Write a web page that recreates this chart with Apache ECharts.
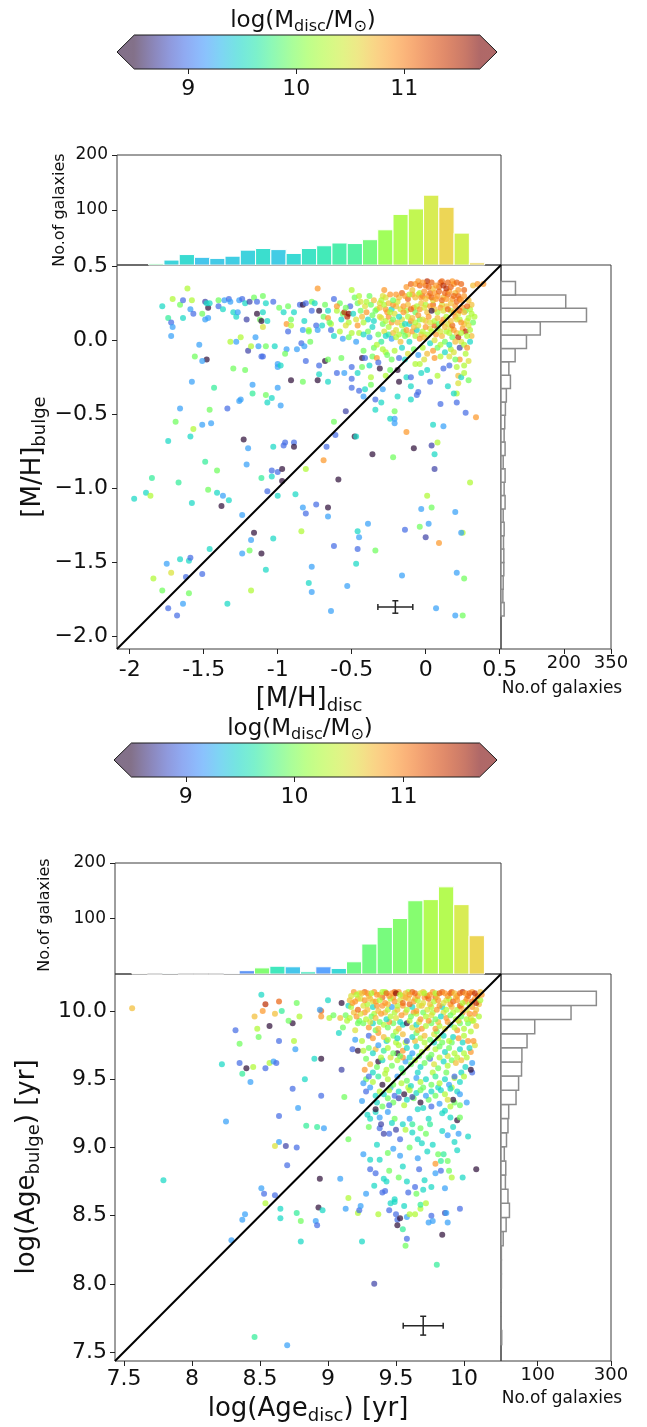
<!DOCTYPE html>
<html>
<head>
<meta charset="utf-8">
<script src="https://cdn.jsdelivr.net/npm/echarts@6/dist/echarts.min.js"></script>
<style>
  html, body { margin: 0; padding: 0; background: #ffffff; }
  #chart { width: 647px; height: 1427px; }
</style>
</head>
<body>
<div id="chart"></div>
<script>
// ---------------------------------------------------------------------------
// Bulge vs disc: metallicity (top block) and age (bottom block), coloured by
// disc stellar mass log(M_disc/M_sun). Each point: [disc value, bulge value, mass].
// ---------------------------------------------------------------------------

// [M/H]_disc, [M/H]_bulge, log(M_disc/M_sun)
const metalPoints = [
  [-1.61,0.35,10.25],[-1.78,0.23,9.5],[-1.71,0.28,10.25],[-1.66,0.24,9.95],[-1.64,0.27,8.95],[-1.58,0.27,10.25],[-1.59,0.21,9.2],[-1.57,0.18,8.95],
  [-1.74,0.15,9.7],[-1.72,0.12,8.95],[-1.71,0.09,9.2],[-1.72,0.03,9.2],[-1.64,0.15,9.5],[-1.51,0.18,9.95],[-1.49,0.26,8.75],[-1.47,0.22,8.5],
  [-1.48,0.25,9.5],[-1.46,0.25,9.5],[-1.49,0.14,9.2],[-1.47,0.15,9.2],[-1.40,0.27,9.95],[-1.40,0.23,8.95],[-1.36,0.27,9.2],[-1.37,0.21,9.5],
  [-1.33,0.28,8.95],[-1.32,0.26,9.2],[-1.30,0.19,9.5],[-1.28,0.16,9.5],[-1.27,0.19,9.2],[-1.26,0.27,9.2],[-1.24,0.28,8.95],[-1.22,0.25,9.5],
  [-1.21,0.14,8.75],[-1.19,0.26,8.75],[-1.16,0.29,9.95],[-1.14,0.26,8.95],[-1.14,0.18,8.5],[-1.12,0.14,9.95],[-1.11,0.13,8.5],[-1.10,0.30,9.95],
  [-1.10,0.19,9.5],[-1.08,0.25,9.5],[-1.03,0.26,8.95],[-1.07,0.13,9.5],[-1.10,0.09,10.5],[-0.99,0.22,9.95],[-0.96,0.19,9.5],[-0.93,0.23,9.95],
  [-0.91,0.14,9.95],[-0.89,0.19,9.5],[-0.85,0.24,8.95],[-0.83,0.24,8.5],[-0.81,0.25,8.95],[-0.77,0.26,9.95],[-0.82,0.13,9.5],[-0.79,0.07,10.25],
  [-0.77,0.20,8.95],[-0.75,0.25,9.5],[-0.73,0.35,10.9],[-0.72,0.20,8.5],[-0.69,0.16,9.95],[-0.66,0.20,9.5],[-0.66,0.15,10.9],[-0.64,0.11,10.25],
  [-0.62,0.28,8.95],[-0.58,0.25,9.95],[-0.56,0.18,9.95],[-0.55,0.19,11.45],[-0.53,0.16,11.45],[-0.52,0.18,11.65],[-0.51,0.23,8.95],[-0.50,0.34,10.25],
  [-0.48,0.29,9.95],[-0.46,0.25,9.95],[-0.45,0.30,10.25],[-0.44,0.26,10.5],[-0.41,0.23,10.5],[-0.40,0.19,10.9],[-0.38,0.30,9.95],[-0.37,0.24,9.95],
  [-0.36,0.17,9.95],[-0.35,0.13,9.5],[-0.33,0.21,10.25],[-0.31,0.25,10.5],[-0.29,0.30,10.5],[-0.28,0.34,10.9],[-0.27,0.21,10.9],
  [-0.94,0.11,10.9],[-0.93,0.06,8.95],[-0.91,0.10,10.25],[-0.83,0.07,9.2],[-0.79,0.06,9.95],[-0.74,0.10,8.95],[-0.73,0.07,9.2],[-0.65,0.12,9.95],
  [-0.64,0.07,8.95],[-0.58,0.06,10.25],[-0.56,0.01,9.2],[-1.32,-0.01,10.25],[-1.28,-0.01,9.2],[-1.25,0.02,10.25],[-1.15,0.02,9.2],[-1.53,-0.03,9.2],
  [-1.56,-0.11,9.95],[-1.20,-0.07,8.75],[-1.18,-0.04,10.25],[-1.13,-0.04,9.2],[-1.11,-0.11,8.95],[-1.10,-0.11,8.95],[-1.08,-0.04,9.95],[-1.02,-0.04,9.5],
  [-0.94,-0.06,9.2],[-0.95,-0.09,9.95],[-0.87,-0.06,9.2],[-0.84,-0.02,8.95],[-0.82,-0.04,9.2],[-0.78,-0.01,9.95],[-1.48,-0.13,8.5],[-1.51,-0.14,9.2],
  [-1.30,-0.19,9.95],[-1.22,-0.20,9.95],[-1.00,-0.16,9.2],[-1.00,-0.18,9.2],[-0.98,-0.17,9.5],[-0.81,-0.14,8.95],[-0.72,-0.17,8.95],[-0.68,-0.14,8.5],
  [-0.66,-0.13,9.95],[-0.72,-0.23,9.5],[-0.73,-0.27,8.5],[-0.91,-0.27,8.5],[-0.83,-0.28,9.95],[-0.66,-0.28,9.5],[-0.60,-0.22,8.95],[-0.57,-0.12,9.95],
  [-0.55,-0.22,9.2],[-0.50,-0.18,8.95],[-0.46,-0.22,9.5],[-0.50,-0.26,8.95],[-0.43,-0.12,8.5],[-0.43,-0.18,9.95],[-0.42,-0.07,9.95],[-0.41,-0.12,8.95],
  [-0.38,-0.17,9.5],[-0.37,-0.25,10.25],[-0.36,-0.11,9.95],[-0.33,-0.12,10.9],[-0.32,-0.15,8.95],[-0.31,-0.19,8.5],[-0.29,-0.06,10.25],[-0.27,-0.08,10.25],
  [-0.23,-0.13,9.95],[-0.18,-0.12,8.95],[-0.19,-0.20,8.5],[-0.18,-0.28,8.5],[-0.14,-0.13,9.5],[-0.13,-0.25,9.5],[-0.10,-0.25,8.95],[-0.07,-0.16,10.25],
  [-0.04,-0.16,10.25],[-0.01,-0.13,10.5],[0.01,-0.20,9.5],[0.03,-0.28,8.95],[0.05,-0.07,10.9],[0.06,-0.12,10.9],[0.12,-0.19,8.95],[0.16,-0.17,8.95],
  [0.16,-0.11,10.5],[0.17,-0.06,10.25],[0.21,-0.18,10.25],[0.23,-0.13,10.9],[0.26,-0.17,10.25],[0.22,-0.24,10.7],[0.22,-0.29,10.5],[0.24,-0.25,9.5],
  [0.23,-0.05,8.75],[0.15,-0.31,9.5],[0.21,-0.36,10.25],[0.19,-0.36,9.5],[-1.58,-0.28,9.2],[-1.43,-0.32,9.7],[-1.17,-0.30,9.2],[-1.17,-0.36,9.7],
  [-1.08,-0.37,9.95],[-1.04,-0.39,9.5],[-1.07,-0.42,9.5],[-1.25,-0.40,9.2],[-1.26,-0.41,9.2],[-1.00,-0.32,9.2],[-0.98,-0.44,9.2],[-1.34,-0.46,8.95],
  [-1.46,-0.47,9.95],[-1.66,-0.46,9.2],[-1.69,-0.55,9.95],[-1.57,-0.60,10.25],[-1.51,-0.57,9.2],[-1.45,-0.56,9.2],[-0.50,-0.32,8.95],[-0.45,-0.34,8.95],
  [-0.41,-0.33,9.5],[-0.42,-0.38,9.2],[-0.37,-0.30,9.95],[-0.29,-0.33,9.2],[-0.34,-0.40,8.95],[-0.30,-0.42,9.5],[-0.34,-0.47,9.5],[-0.21,-0.48,9.95],
  [-0.19,-0.38,9.5],[-0.24,-0.53,9.5],[-0.21,-0.53,9.2],[-0.21,-0.56,9.2],[-0.10,-0.31,9.5],[-0.06,-0.37,8.95],[-0.05,-0.35,8.95],[-0.10,-0.40,9.5],
  [0.10,-0.43,8.95],[0.21,-0.42,8.95],[0.27,-0.49,8.95],[0.34,-0.52,10.9],[0.05,-0.57,9.5],[0.12,-0.58,9.2],[-0.13,-0.62,10.9],[-0.48,-0.65,8.5],
  [-0.47,-0.65,9.5],[-0.54,-0.48,8.75],[-0.62,-0.55,9.95],[-0.61,-0.64,8.95],[-0.67,-0.72,8.95],[-0.36,-0.77,8.5],[-0.22,-0.79,9.95],[-0.08,-0.73,8.5],
  [0.04,-0.71,8.75],[0.08,-0.69,10.25],[0.06,-0.77,9.5],[-1.74,-0.68,9.5],[-1.59,-0.65,9.5],[-1.23,-0.67,8.5],[-1.20,-0.73,9.2],[-1.03,-0.72,9.5],
  [-0.96,-0.71,8.95],[-0.95,-0.69,8.95],[-0.89,-0.69,8.95],[-0.89,-0.72,8.5],
  [-1.49,-0.82,9.7],[-1.41,-0.88,9.95],[-1.85,-0.93,9.7],[-1.67,-0.96,9.7],[-1.97,-1.07,9.5],[-1.89,-1.03,9.5],[-1.86,-1.05,10.25],[-1.58,-1.10,9.5],
  [-1.47,-1.01,9.95],[-1.41,-1.03,9.5],[-1.37,-1.05,9.2],[-1.33,-1.08,9.5],[-1.38,-1.12,8.5],[-1.21,-0.84,9.2],[-1.11,-0.93,9.7],[-1.04,-0.92,9.5],
  [-1.04,-0.88,8.95],[-1.00,-0.89,8.95],[-0.97,-0.87,8.5],[-0.97,-0.95,8.5],[-1.07,-1.02,8.95],[-1.00,-1.05,9.5],[-0.81,-0.87,10.25],[-0.69,-0.81,10.9],
  [-0.59,-0.94,8.5],[0.06,-0.87,8.75],[0.30,-0.96,10.25],[-0.88,-1.04,9.5],[-0.83,-1.13,9.2],[-0.81,-1.17,8.95],[-0.74,-1.11,8.95],[-0.66,-1.13,8.5],
  [-0.66,-1.19,9.2],[0.01,-1.05,10.25],[0.04,-1.13,9.95],[-0.03,-1.14,9.2],[0.20,-1.16,9.2],[-1.24,-1.18,9.2],[-1.16,-1.30,8.5],[-1.18,-1.35,9.2],
  [-1.03,-1.34,9.5],[-0.84,-1.29,10.25],[-0.46,-1.29,9.5],[-0.45,-1.33,9.2],[-0.39,-1.24,9.2],[-0.14,-1.28,8.95],[-0.04,-1.26,9.95],[0.02,-1.24,9.2],
  [0.00,-1.33,8.75],[0.09,-1.37,10.9],[0.25,-1.30,10.25],[0.24,-1.30,9.2],[-1.46,-1.41,9.5],[-1.19,-1.42,9.95],[-1.11,-1.44,8.5],[-1.24,-1.44,9.2],
  [-0.62,-1.39,8.95],[-0.46,-1.41,8.95],[-0.34,-1.42,9.95],[-1.66,-1.48,9.5],[-1.75,-1.51,9.2],[-1.60,-1.49,9.5],[-1.59,-1.47,8.95],[-1.72,-1.57,10.5],
  [-1.84,-1.61,10.25],[-1.62,-1.60,8.95],[-1.51,-1.58,8.95],[-1.08,-1.55,9.5],[-0.77,-1.53,9.2],[-0.47,-1.51,9.5],[-0.16,-1.59,9.2],[0.21,-1.57,9.2],
  [0.26,-1.61,9.95],[-1.78,-1.69,9.95],[-1.60,-1.71,9.95],[-1.18,-1.69,10.25],[-0.79,-1.64,9.5],[-0.77,-1.70,9.2],[-0.53,-1.66,9.2],[-1.64,-1.78,9.2],
  [-1.34,-1.78,9.5],[-1.74,-1.81,8.95],[-1.68,-1.86,8.95],[-0.64,-1.83,9.2],[0.07,-1.81,9.2],[0.20,-1.86,9.2],[0.25,-1.86,9.95],
  [-0.60,0.20,10.25],[-0.57,0.14,9.5],[-0.54,0.22,9.95],[-0.52,0.12,10.25],[-0.49,0.18,9.5],[-0.47,0.14,10.5],[-0.44,0.20,9.95],[-0.43,0.16,10.7],
  [-0.40,0.26,10.25],[-0.39,0.14,9.5],[-0.35,0.27,10.7],[-0.34,0.20,9.95],[-0.31,0.16,10.5],[-0.62,0.03,9.5],[-0.52,0.02,9.95],[-0.45,0.05,10.25],
  [-0.38,0.02,9.2],[-0.35,-0.05,9.95],[-0.60,0.23,10.9],[-0.68,0.24,9.95],[-0.70,0.10,9.5],
  [-0.26,-0.10,9.95],[-0.21,-0.07,10.25],[-0.16,-0.05,9.5],[-0.12,-0.09,10.5],[-0.08,-0.06,9.95],[-0.05,-0.10,9.2],[-0.02,-0.05,10.25],[0.01,-0.09,10.7],
  [0.08,-0.05,9.95],[0.10,-0.11,10.25],[0.13,-0.08,9.5],[0.19,-0.08,10.5],[0.20,-0.13,9.95],[0.27,-0.09,10.25],[0.29,-0.14,10.5],[0.26,-0.22,10.25],
  [0.29,-0.27,9.95],[0.08,-0.24,10.25],[-0.03,-0.22,9.5],[-0.24,-0.20,9.95],[-0.27,-0.24,10.25],
  [-0.28,0.06,10.5],[-0.25,0.04,9.7],[-0.22,0.05,10.7],[-0.18,0.04,10.25],[-0.15,0.06,9.95],[-0.12,0.04,10.5],[-0.09,0.06,10.9],[-0.06,0.07,9.5],
  [-0.03,0.04,10.7],[0.01,0.04,10.25],[0.03,0.08,10.5],[0.07,0.04,10.9],[0.08,0.08,9.95],[0.11,0.03,10.7],[0.14,0.06,10.25],[0.17,0.08,10.5],
  [0.18,0.02,9.95],[0.21,0.05,10.7],[0.25,0.08,10.9],[0.27,0.06,11.45],[0.30,0.07,10.25],[0.31,0.03,10.7],[0.24,-0.01,10.5],[0.26,-0.03,10.25],
  [0.28,-0.05,10.9],[0.30,-0.01,9.5],
  [-0.29,0.11,9.95],[-0.25,0.09,10.25],[-0.23,0.12,10.9],[-0.20,0.07,10.5],[-0.16,0.10,10.25],[-0.13,0.07,10.9],[-0.11,0.11,9.5],[-0.08,0.09,10.7],
  [-0.05,0.10,10.5],[-0.02,0.06,10.25],[0.00,0.09,10.9],[0.04,0.06,10.25],[0.06,0.10,11.15],[0.10,0.06,10.5],[0.13,0.09,10.7],[0.16,0.05,10.25],
  [0.19,0.07,10.9],[0.22,0.02,11.45],[0.24,0.05,10.25],[0.28,0.03,10.25],[-0.27,0.03,9.5],[-0.23,0.01,9.2],[-0.20,0.02,10.25],[-0.17,-0.01,10.7],
  [-0.14,0.03,9.95],[-0.11,-0.01,9.5],[-0.07,0.03,10.25],[-0.04,0.01,10.9],[-0.01,0.02,10.7],[0.03,-0.02,9.5],[0.06,0.00,10.5],[0.10,-0.03,10.25],
  [0.13,-0.01,9.95],[0.16,-0.03,9.5],[0.20,-0.01,10.7],
  [-0.46,0.10,10.9],[-0.42,0.12,10.25],[-0.39,0.06,9.95],[-0.36,0.09,9.5],[-0.32,0.04,9.95],[-0.30,-0.01,9.7],[-0.42,0.04,9.5],[-0.47,-0.01,9.2],
  [-0.50,0.05,10.25],[-0.54,0.10,10.5],[-0.33,-0.03,10.25],
  [-0.30,0.15,10.5],[-0.27,0.13,10.25],[-0.25,0.16,10.9],[-0.22,0.14,9.95],[-0.19,0.12,10.7],[-0.16,0.14,10.5],[-0.14,0.11,9.5],[-0.10,0.13,10.9],
  [-0.07,0.12,10.25],[-0.04,0.14,9.95],[0.00,0.13,10.7],[0.03,0.12,10.5],[0.06,0.13,10.25],[0.09,0.11,9.95],[0.11,0.12,10.9],[0.15,0.11,10.5],
  [0.18,0.10,11.15],[0.20,0.16,10.9],[0.23,0.14,10.25],[0.26,0.11,10.7],[0.28,0.13,10.5],[0.32,0.12,9.95],[0.33,0.16,10.25],
  [-0.31,0.22,10.7],[-0.28,0.24,10.25],[-0.26,0.19,10.9],[-0.23,0.21,9.5],[-0.20,0.23,10.7],[-0.17,0.21,10.5],[-0.13,0.20,10.25],[-0.08,0.22,10.9],
  [-0.07,0.19,9.95],[-0.03,0.25,10.7],[0.00,0.24,10.25],[0.01,0.19,10.7],[0.05,0.24,11.15],[0.08,0.19,10.25],[0.11,0.24,10.5],[0.14,0.23,10.7],
  [0.17,0.20,10.25],[0.20,0.23,10.9],[0.22,0.18,10.5],[0.25,0.22,10.9],[0.27,0.20,9.95],[0.30,0.21,10.25],[0.31,0.24,10.7],
  [-0.25,0.25,10.7],[-0.22,0.24,10.9],[-0.19,0.26,10.5],[-0.15,0.23,10.9],[-0.12,0.24,10.7],[-0.10,0.21,11.15],[-0.06,0.23,10.25],[-0.04,0.21,10.9],
  [-0.01,0.22,10.5],[0.03,0.23,10.9],[0.06,0.21,10.7],[0.10,0.22,10.9],[0.12,0.20,10.5],[0.15,0.21,11.15],[0.19,0.19,10.9],[0.23,0.20,11.15],
  [0.26,0.19,10.7],[-0.24,0.19,10.25],[-0.21,0.18,10.5],[-0.18,0.16,9.5],[-0.15,0.19,10.9],[-0.12,0.16,10.25],[-0.09,0.15,10.7],[-0.05,0.17,10.9],
  [-0.02,0.14,10.5],[0.02,0.16,10.9],[0.04,0.20,8.5],[0.08,0.15,10.7],[0.12,0.14,10.9],[0.14,0.16,10.25],[0.17,0.13,10.7],[0.21,0.14,10.5],
  [0.24,0.12,10.9],[0.29,0.15,10.25],
  [-0.27,0.29,10.5],[-0.24,0.31,10.9],[-0.18,0.29,10.7],[-0.12,0.28,11.15],[-0.09,0.31,10.9],[-0.05,0.31,10.5],[-0.02,0.30,11.15],[0.02,0.30,10.9],
  [0.05,0.27,10.5],[0.08,0.30,10.9],[0.12,0.29,10.7],[0.15,0.31,11.15],[0.18,0.28,10.9],[0.20,0.32,10.7],[0.23,0.28,11.15],[0.26,0.30,10.9],
  [0.29,0.27,10.7],[-0.30,0.27,10.25],[-0.22,0.27,9.95],
  [-0.04,0.32,10.25],[-0.01,0.33,10.9],[0.03,0.32,11.15],[0.06,0.32,10.9],[0.09,0.33,11.15],[0.13,0.32,11.15],[0.16,0.33,10.9],[0.19,0.30,11.15],
  [0.22,0.30,11.15],[-0.20,0.31,10.9],[-0.16,0.32,11.15],[-0.14,0.30,10.9],[-0.11,0.31,10.25],[-0.07,0.29,10.7],[-0.03,0.29,10.9],[0.00,0.28,10.7],
  [0.04,0.29,11.15],[0.07,0.28,10.9],[0.11,0.27,11.15],[0.14,0.28,10.9],[0.17,0.25,10.7],[0.21,0.26,11.15],[0.24,0.27,10.9],[0.28,0.23,11.15],
  [-0.13,0.36,10.9],[-0.10,0.38,11.15],[-0.05,0.40,10.9],[0.00,0.37,11.15],[0.05,0.35,10.7],[0.09,0.36,11.15],[0.14,0.35,11.45],[0.19,0.38,10.9],
  [0.24,0.38,11.15],[0.26,0.34,11.15],[-0.09,0.34,10.7],[0.01,0.40,11.45],[0.11,0.40,11.15],[0.18,0.40,10.9],
  [-0.07,0.38,10.9],[-0.04,0.37,11.15],[-0.02,0.39,10.9],[0.02,0.36,11.15],[0.04,0.39,11.15],[0.07,0.37,10.9],[0.10,0.39,11.15],[0.12,0.37,11.45],
  [0.15,0.39,11.15],[0.17,0.36,11.15],[0.21,0.39,11.15],[0.22,0.34,10.9],
  [0.31,0.18,10.25],[0.32,0.37,10.7],[0.35,0.38,10.9],[0.39,0.38,10.9],[0.29,0.10,10.5]
];

// log(Age_disc), log(Age_bulge), log(M_disc/M_sun)
const agePoints = [
  [7.56,10.02,10.7],[7.79,8.76,9.5],[8.51,10.12,9.5],[8.54,10.05,11.45],[8.64,10.07,11.15],[8.52,10.00,10.9],[8.61,9.98,10.7],[8.66,10.00,9.7],
  [8.77,10.06,9.95],[8.46,9.96,10.7],[8.57,9.89,8.5],[8.74,9.91,8.5],[8.71,9.93,9.95],[8.79,9.96,10.25],[8.48,9.87,10.25],[8.32,9.86,8.95],
  [8.49,9.81,9.95],[8.35,9.76,9.95],[8.64,9.78,8.95],[8.75,9.78,10.25],[8.76,9.72,9.2],[8.95,10.00,11.15],[8.95,9.96,10.9],[9.01,9.95,10.25],
  [9.00,10.08,9.5],[8.94,10.01,9.2],[9.04,9.97,9.95],[9.09,9.95,10.7],[9.10,10.06,8.5],[9.11,9.88,9.95],[9.08,9.84,9.5],[9.15,10.04,9.5],
  [9.20,9.79,9.2],[9.18,9.72,8.95],[9.22,9.71,8.5],[8.90,9.65,9.5],[8.95,9.65,8.5],[8.22,9.61,9.5],[8.35,9.62,8.95],[8.40,9.58,8.5],
  [8.45,9.59,10.25],[8.37,9.54,9.7],[8.43,9.48,9.2],[8.54,9.58,8.95],[8.57,9.62,10.25],[8.60,9.63,9.2],[8.62,9.62,8.95],[8.83,9.50,9.5],
  [8.74,9.43,8.95],[8.95,9.38,8.95],[9.10,9.57,8.75],[9.12,9.37,9.95],[8.78,9.29,9.2],[8.64,9.23,8.95],[8.25,9.19,9.2],[8.84,9.16,9.7],
  [8.92,9.15,9.7],[8.97,9.14,9.2],[9.15,9.06,9.95],[8.64,9.04,9.2],[8.61,9.01,10.5],[8.69,9.01,8.75],[8.77,9.00,8.95],[8.70,8.87,8.95],
  [8.94,8.77,8.5],[9.09,8.77,9.2],[8.51,8.70,9.2],[8.53,8.66,8.95],[8.61,8.65,8.95],
  [9.26,8.95,9.2],[9.31,8.91,9.5],[9.38,8.91,9.5],[9.44,8.96,9.95],[9.53,8.94,9.2],[9.31,8.84,8.95],[9.35,8.81,8.95],[9.45,8.83,9.95],
  [9.41,8.77,9.5],[9.43,8.75,9.5],[9.58,8.75,9.5],[9.64,8.71,8.95],[9.67,8.84,8.95],[9.71,8.76,9.5],[9.79,8.88,10.9],[9.83,8.90,9.7],
  [9.81,8.95,9.95],[9.85,8.95,9.7],[9.83,8.83,8.95],[9.89,8.83,9.95],[9.79,8.81,9.2],[9.91,8.78,10.25],[9.99,8.78,9.5],[10.09,8.84,8.5],
  [9.76,8.71,9.5],[9.40,8.67,8.95],[9.42,8.68,8.95],[9.59,8.67,8.95],[9.65,8.66,9.95],[9.28,8.66,9.2],[9.15,8.63,10.25],[9.49,8.62,9.5],
  [10.03,9.08,9.5],[9.93,9.04,9.5],[9.88,9.09,9.2],[9.77,9.02,9.5],[9.69,9.03,9.5],[9.66,9.06,9.5],[9.62,9.11,9.5],[9.53,9.06,8.95],
  [9.50,9.13,8.75],[9.45,9.10,8.95],[9.41,9.10,8.75],[9.38,9.14,8.95],[9.39,9.17,8.75],[9.38,9.22,9.2],[9.31,9.21,9.5],[9.29,9.24,9.5],
  [9.35,9.26,9.5],[9.44,9.26,9.2],[9.49,9.21,9.95],[9.55,9.17,9.5],[9.57,9.13,10.25],[9.62,9.17,9.7],[9.68,9.14,9.95],[9.74,9.21,9.5],
  [9.75,9.17,9.7],[9.84,9.25,9.5],[9.90,9.22,9.5],[9.92,9.15,9.5],[9.95,9.20,8.5],[9.97,9.22,9.95],[10.02,9.33,9.2],[9.97,9.31,9.95],
  [9.90,9.30,10.25],[9.82,9.32,9.2],[9.76,9.30,8.95],[9.70,9.29,9.5],[9.68,9.33,8.5],[9.63,9.36,9.95],[9.58,9.35,9.5],[9.52,9.36,8.75],
  [9.48,9.33,9.95],[9.45,9.31,8.95],[9.40,9.30,9.95],[9.35,9.28,8.5],[9.25,9.34,9.2],
  [8.54,8.59,10.25],[8.65,8.55,9.5],[8.39,8.51,9.2],[8.37,8.47,9.2],[8.29,8.32,9.2],[8.65,8.48,9.5],[8.77,8.52,9.7],[8.80,8.46,9.95],
  [8.80,8.31,9.5],[8.91,8.46,9.2],[8.92,8.43,8.95],[8.93,8.56,8.5],[8.96,8.54,9.5],[9.13,8.55,9.2],[9.22,8.52,10.25],[9.23,8.54,8.95],
  [9.24,8.57,9.2],[9.25,8.31,9.5],[9.37,8.51,10.25],[9.45,8.54,8.95],[9.46,8.59,9.5],[9.49,8.60,9.5],[9.50,8.51,8.95],[9.51,8.47,8.95],
  [9.51,8.43,8.5],[9.53,8.48,8.5],[9.55,8.40,9.7],[9.57,8.28,9.95],[9.56,8.57,9.5],[9.58,8.49,9.2],[9.58,8.33,8.95],[9.60,8.51,10.25],
  [9.64,8.51,10.25],[9.68,8.55,10.25],[9.68,8.58,9.7],[9.72,8.59,10.25],[9.76,8.50,8.95],[9.74,8.45,9.2],[9.77,8.46,9.2],[9.86,8.52,8.75],
  [9.87,8.52,9.2],[9.88,8.45,9.2],[9.84,8.36,8.5],[9.97,8.55,8.95],[9.80,8.14,9.7],[9.34,8.00,8.75],[8.46,7.61,9.7],[8.70,7.55,9.2],
  [9.36,9.02,9.5],[9.48,8.99,9.2],[9.60,9.00,9.95],[9.73,8.97,9.5],[9.55,8.86,9.5],[9.66,8.92,9.2],[9.88,8.90,9.95],[9.52,8.78,9.95],
  [9.70,8.69,9.5],[9.86,8.70,9.2],[9.34,8.72,9.5],[9.95,8.98,9.5],
  [9.28,9.50,9.95],[9.33,9.55,9.5],[9.42,9.54,10.25],[9.46,9.44,9.2],[9.55,9.55,9.95],[9.59,9.44,10.25],[9.66,9.55,9.5],[9.70,9.44,9.95],
  [9.77,9.55,10.25],[9.81,9.44,9.5],[9.87,9.55,9.95],[9.91,9.44,10.25],[9.98,9.55,9.5],[9.36,9.33,9.5],[9.44,9.36,9.95],[9.56,9.31,10.25],
  [9.66,9.28,9.5],[9.74,9.35,9.95],[9.86,9.27,9.5],[9.93,9.33,9.95],[9.30,9.15,9.95],[9.47,9.18,9.5],[9.60,9.21,9.2],[9.72,9.10,9.95],
  [9.84,9.12,9.5],[9.96,9.10,9.2],
  [9.26,9.47,9.2],[9.30,9.52,8.95],[9.33,9.48,10.25],[9.37,9.52,9.7],[9.40,9.46,8.5],[9.44,9.50,10.25],[9.48,9.46,9.95],[9.51,9.52,9.2],
  [9.54,9.47,10.25],[9.58,9.49,9.95],[9.61,9.45,9.5],[9.65,9.51,9.2],[9.68,9.48,10.25],[9.72,9.50,9.5],[9.76,9.46,9.95],[9.79,9.52,9.7],
  [9.82,9.47,10.25],[9.86,9.50,9.5],[9.89,9.46,9.2],[9.93,9.51,10.25],[9.97,9.48,9.5],[10.00,9.52,10.25],[10.06,9.55,8.95],[9.93,9.52,8.95],
  [9.28,9.41,8.95],[9.31,9.44,9.2],[9.35,9.38,9.5],[9.38,9.41,10.25],[9.41,9.39,9.5],[9.45,9.42,10.25],[9.49,9.38,8.95],[9.52,9.41,9.5],
  [9.56,9.39,8.5],[9.60,9.42,10.25],[9.62,9.37,8.75],[9.65,9.40,9.5],[9.68,9.42,9.95],[9.72,9.38,9.2],[9.76,9.41,9.5],[9.79,9.38,9.95],
  [9.83,9.42,9.5],[9.86,9.39,10.25],[9.90,9.43,9.5],[9.92,9.35,8.5],[9.95,9.41,9.5],[9.88,9.35,10.5],[9.97,9.39,9.2],
  [9.27,9.57,10.9],[9.31,9.61,10.7],[9.36,9.59,9.95],[9.37,9.63,8.5],[9.40,9.64,9.5],[9.43,9.57,10.25],[9.47,9.60,9.95],[9.51,9.64,10.25],
  [9.51,9.69,8.5],[9.54,9.58,9.7],[9.57,9.63,9.2],[9.61,9.61,9.95],[9.64,9.64,10.25],[9.68,9.59,9.5],[9.71,9.62,9.95],[9.75,9.65,8.95],
  [9.78,9.61,10.5],[9.81,9.58,9.95],[9.85,9.63,9.5],[9.88,9.60,10.25],[9.91,9.64,9.95],[9.94,9.62,10.7],[9.98,9.64,10.7],[10.01,9.59,9.5],
  [10.06,9.62,9.2],[10.05,9.57,8.5],[9.55,9.66,10.9],
  [9.25,9.78,10.25],[9.28,9.65,9.95],[9.35,9.72,10.7],[9.39,9.66,10.25],[9.43,9.78,9.5],[9.46,9.66,10.5],[9.50,9.77,10.25],[9.53,9.67,9.95],
  [9.57,9.77,10.25],[9.60,9.66,9.5],[9.64,9.78,10.7],[9.67,9.67,9.95],[9.71,9.77,10.25],[9.74,9.66,9.95],[9.78,9.77,9.5],[9.82,9.66,10.25],
  [9.84,9.77,9.95],[9.88,9.67,10.5],[9.91,9.77,9.95],[9.95,9.66,10.25],[9.99,9.77,9.5],[10.02,9.66,10.25],[10.05,9.70,10.9],[10.08,9.75,10.5],
  [9.26,9.71,10.25],[9.30,9.73,9.95],[9.33,9.69,9.5],[9.37,9.75,9.2],[9.41,9.71,9.7],[9.44,9.73,10.25],[9.48,9.69,9.95],[9.52,9.75,10.25],
  [9.55,9.71,10.9],[9.58,9.73,9.5],[9.62,9.69,9.2],[9.65,9.74,9.5],[9.69,9.70,10.25],[9.73,9.73,10.5],[9.76,9.68,9.95],[9.79,9.72,10.25],
  [9.82,9.74,9.95],[9.86,9.70,9.5],[9.89,9.73,9.95],[9.93,9.69,10.25],[9.97,9.72,9.5],[10.00,9.69,10.25],[10.04,9.73,9.5],
  [9.30,9.82,8.95],[9.33,9.80,10.9],[9.37,9.84,10.9],[9.41,9.81,10.7],[9.44,9.79,10.25],[9.48,9.82,9.95],[9.51,9.80,9.5],[9.55,9.83,10.7],
  [9.58,9.78,8.95],[9.62,9.81,9.5],[9.65,9.84,9.95],[9.68,9.80,10.25],[9.71,9.82,10.7],[9.75,9.79,9.95],[9.78,9.83,10.5],[9.81,9.80,10.25],
  [9.85,9.82,9.5],[9.89,9.78,10.25],[9.92,9.81,9.5],[9.96,9.80,10.9],[10.00,9.82,10.25],[10.03,9.78,10.9],[10.07,9.78,10.9],[10.06,9.93,10.5],
  [9.20,9.86,10.5],[9.35,9.86,9.95],[9.50,9.85,10.25],[9.66,9.86,10.7],[9.80,9.85,9.95],[9.95,9.86,10.9],[10.05,9.85,10.25],
  [9.22,9.91,9.95],[9.26,9.91,9.95],[9.30,9.88,10.9],[9.33,9.91,9.5],[9.37,9.87,10.7],[9.41,9.90,10.25],[9.44,9.88,9.95],[9.48,9.91,9.95],
  [9.52,9.87,10.7],[9.55,9.90,9.5],[9.58,9.91,8.5],[9.62,9.88,10.5],[9.65,9.90,9.5],[9.69,9.87,10.9],[9.72,9.89,10.25],[9.76,9.91,9.95],
  [9.79,9.87,10.9],[9.82,9.89,10.25],[9.86,9.87,10.5],[9.90,9.90,9.5],[9.93,9.88,10.25],[9.97,9.91,9.95],[10.00,9.87,10.25],[10.03,9.91,9.95],
  [10.09,9.89,10.7],[10.07,9.93,10.25],
  [9.14,9.93,10.25],[9.19,9.99,10.7],[9.23,9.93,9.95],[9.27,9.99,10.9],[9.31,9.92,10.5],[9.34,9.98,10.25],[9.38,9.92,9.95],[9.42,9.99,10.7],
  [9.45,9.92,10.9],[9.49,9.99,10.25],[9.53,9.92,9.5],[9.57,9.99,10.7],[9.60,9.93,10.25],[9.63,9.99,10.9],[9.67,9.92,10.5],[9.70,9.99,9.95],
  [9.74,9.93,10.9],[9.77,9.99,10.25],[9.81,9.92,10.7],[9.85,9.99,10.5],[9.88,9.92,10.9],[9.92,9.99,10.25],[9.96,9.93,10.7],[9.99,9.99,10.9],
  [10.05,9.95,10.5],[10.08,9.98,10.9],[10.11,9.96,10.25],
  [9.13,9.97,9.95],[9.16,9.95,10.25],[9.21,9.96,10.9],[9.24,9.98,10.5],[9.28,9.94,10.25],[9.32,9.96,9.95],[9.35,9.95,10.7],[9.39,9.98,10.9],
  [9.43,9.94,9.5],[9.46,9.96,10.25],[9.50,9.95,10.5],[9.54,9.97,10.9],[9.61,9.96,9.95],[9.65,9.98,10.25],[9.68,9.94,10.9],[9.72,9.96,10.25],
  [9.76,9.97,10.5],[9.79,9.94,9.95],[9.83,9.96,9.5],[9.87,9.95,10.9],[9.90,9.97,9.95],[9.94,9.94,10.25],[9.98,9.96,9.95],[10.02,9.94,10.25],
  [10.04,9.98,10.9],
  [9.17,10.03,10.25],[9.22,10.01,11.15],[9.26,10.04,10.5],[9.29,10.01,10.7],[9.33,10.03,9.5],[9.37,10.00,10.7],[9.40,10.04,10.9],[9.44,10.01,10.25],
  [9.47,10.03,9.2],[9.51,10.01,10.7],[9.55,10.04,10.9],[9.58,10.01,10.25],[9.62,10.03,9.5],[9.65,10.00,10.9],[9.69,10.04,10.7],[9.73,10.01,10.5],
  [9.76,10.03,10.25],[9.80,10.01,10.9],[9.84,10.03,9.5],[9.87,10.01,10.25],[9.91,10.03,10.7],[9.95,10.01,10.25],[9.98,10.03,10.9],[10.02,10.01,10.5],
  [10.06,10.03,10.9],[10.09,10.01,10.7],
  [9.18,10.06,10.9],[9.22,10.09,10.7],[9.29,10.05,10.25],[9.33,10.07,10.5],[9.36,10.04,10.9],[9.40,10.10,11.15],[9.44,10.05,10.7],[9.48,10.10,10.9],
  [9.51,10.04,10.25],[9.57,10.10,10.9],[9.60,10.05,11.15],[9.64,10.09,10.7],[9.67,10.04,10.5],[9.71,10.10,10.9],[9.75,10.05,10.7],[9.79,10.10,11.15],
  [9.82,10.04,10.9],[9.87,10.08,10.5],[9.90,10.05,10.9],[9.94,10.10,10.7],[9.97,10.04,11.15],[10.01,10.07,10.9],[10.04,10.05,10.25],[10.08,10.09,10.9],
  [10.11,10.05,10.7],
  [9.16,10.08,10.7],[9.20,10.07,10.9],[9.24,10.09,10.5],[9.27,10.08,10.9],[9.31,10.09,10.7],[9.35,10.07,10.9],[9.38,10.08,10.25],[9.42,10.06,10.9],
  [9.46,10.09,10.25],[9.49,10.07,10.9],[9.53,10.08,10.5],[9.55,10.06,11.15],[9.59,10.09,10.7],[9.63,10.07,10.9],[9.66,10.08,10.25],[9.70,10.06,10.5],
  [9.74,10.09,11.15],[9.78,10.07,10.25],[9.81,10.08,10.9],[9.85,10.06,10.5],[9.89,10.09,10.25],[9.92,10.07,11.15],[9.95,10.08,10.9],[9.99,10.06,10.25],
  [10.02,10.09,10.9],[10.06,10.07,11.15],[10.09,10.06,11.45],[10.12,10.08,10.25],
  [9.19,10.14,10.9],[9.23,10.13,10.5],[9.27,10.14,11.15],[9.30,10.11,10.7],[9.34,10.14,10.9],[9.38,10.12,10.7],[9.42,10.14,10.25],[9.45,10.11,10.9],
  [9.49,10.14,11.15],[9.52,10.14,10.9],[9.55,10.11,10.7],[9.59,10.14,10.25],[9.62,10.14,11.15],[9.66,10.11,10.9],[9.70,10.14,10.7],[9.73,10.11,11.15],
  [9.77,10.14,10.9],[9.80,10.11,10.7],[9.84,10.14,11.15],[9.88,10.11,10.9],[9.91,10.14,11.15],[9.95,10.11,10.9],[9.99,10.14,11.45],[10.03,10.11,11.15],
  [10.06,10.14,10.9],[10.10,10.11,11.15],[10.13,10.12,10.9],
  [9.17,10.11,10.5],[9.21,10.12,10.25],[9.25,10.13,10.7],[9.29,10.13,10.9],[9.32,10.13,10.25],[9.36,10.12,10.9],[9.40,10.14,10.25],[9.43,10.13,11.15],
  [9.47,10.13,10.9],[9.50,10.13,11.65],[9.53,10.12,10.25],[9.57,10.13,10.7],[9.60,10.12,10.9],[9.64,10.13,11.15],[9.68,10.13,10.5],[9.71,10.13,10.25],
  [9.75,10.12,10.9],[9.79,10.13,10.25],[9.82,10.13,11.15],[9.86,10.13,10.9],[9.90,10.13,11.15],[9.93,10.13,10.7],[9.97,10.13,11.15],[10.01,10.13,10.9],
  [10.04,10.13,11.15],[10.08,10.13,11.45],[10.12,10.14,10.7]
];

// Marginal histograms: first bin edge, bin width, counts, mean disc mass per bin
const metalTopStart = -1.872, metalTopWidth = 0.1032;
const metalTopCounts = [2,9,19,14,12,16,27,30,28,21,30,35,40,39,46,64,92,102,127,105,58,4];
const metalTopMass = [9.8,9.42,9.48,9.33,9.36,9.38,9.41,9.5,9.37,9.46,9.55,9.62,9.68,9.72,9.9,10.1,10.2,10.3,10.45,10.62,10.4,10.62];
const metalSideStart = -1.863, metalSideWidth = 0.0904;
const metalSideCounts = [10,6,7,9,9,8,10,7,13,10,13,7,13,10,12,14,17,30,25,45,81,125,272,206,46];

const ageTopStart = 7.558, ageTopWidth = 0.1127;
const ageTopCounts = [1,0,1,0,0,0,1,6,11,14,13,4,13,10,22,54,84,100,132,134,157,125,69];
const ageTopMass = [10.7,9.5,9.5,9.5,9.5,9.5,9.2,9.05,9.95,9.6,9.33,9.6,9.14,9.45,9.88,9.88,9.9,9.97,9.97,10.2,10.22,10.45,10.62];
const ageSideStart = 7.554, ageSideWidth = 0.10364;
const ageSideCounts = [2,0,0,0,1,1,1,6,14,23,19,12,13,9,15,19,21,41,48,56,57,71,92,191,260];

// Typical uncertainties: [x, y, xerr, yerr]
const metalError = [[-0.205, -1.802, 0.118, 0.042]];
const ageError = [[9.70, 7.693, 0.147, 0.069]];

// Axis extents and tick values
const metalRange = [-2.086, 0.509];
const ageRange = [7.434, 10.272];
const metalTicks = [-2, -1.5, -1, -0.5, 0, 0.5];
const ageTicks = [7.5, 8, 8.5, 9, 9.5, 10];
const massTicks = [9, 10, 11];
const massRange = [8.5, 11.7];

// ---------------------------------------------------------------------------
const FONT = 'DejaVu Sans';
const INK = '#111111';
const FRAME = '#3d3d3d';
const CB_EXT = 0.16; // length of the colourbar end triangles, in mass units

// Turbo colour map, sampled at position (0..255) -> r, g, b in 0..1
const TURBO = [
  [0, 0.190, 0.072, 0.232], [13, 0.240, 0.200, 0.520], [26, 0.270, 0.330, 0.770], [38, 0.275, 0.450, 0.920],
  [51, 0.250, 0.580, 0.995], [64, 0.160, 0.720, 0.930], [77, 0.090, 0.830, 0.800], [89, 0.130, 0.900, 0.680],
  [102, 0.260, 0.960, 0.520], [115, 0.420, 0.990, 0.360], [128, 0.570, 1.000, 0.240], [140, 0.690, 0.975, 0.200],
  [153, 0.800, 0.930, 0.210], [166, 0.900, 0.840, 0.220], [178, 0.970, 0.720, 0.215], [191, 0.990, 0.600, 0.170],
  [204, 0.960, 0.470, 0.110], [217, 0.890, 0.340, 0.060], [230, 0.790, 0.230, 0.025], [243, 0.660, 0.130, 0.010],
  [255, 0.480, 0.016, 0.011]
];
function turbo(t) {
  const p = 255 * Math.max(0, Math.min(1, t));
  let k = 0;
  while (k < TURBO.length - 2 && TURBO[k + 1][0] < p) k++;
  const a = TURBO[k], b = TURBO[k + 1];
  const f = (p - a[0]) / (b[0] - a[0]);
  return [1, 2, 3].map(i => Math.round(255 * (a[i] + (b[i] - a[i]) * f)));
}
function massColor(m, alpha) {
  const c = turbo((m - massRange[0]) / (massRange[1] - massRange[0]));
  return 'rgba(' + c[0] + ',' + c[1] + ',' + c[2] + ',' + alpha + ')';
}

function bins(start, width, counts, mass) {
  return counts.map((n, i) => [start + i * width, start + (i + 1) * width, n, mass ? mass[i] : 0]);
}

// ---- axis helpers ----
function hiddenAxis(grid, min, max) {
  return { type: 'value', gridIndex: grid, min, max,
    axisLine: { show: false, onZero: false }, axisTick: { show: false }, axisLabel: { show: false }, splitLine: { show: false } };
}
function tickedAxis(grid, min, max, ticks, fmt, fontSize, margin, tickLen) {
  return { type: 'value', gridIndex: grid, min, max,
    axisLine: { show: false, onZero: false },
    axisTick: { show: true, customValues: ticks, length: tickLen, lineStyle: { color: '#222', width: 1 } },
    axisLabel: { show: true, customValues: ticks, formatter: fmt, fontSize, margin, color: INK, fontFamily: FONT },
    splitLine: { show: false } };
}
const plainFmt = v => String(v);
const minusFmt = v => v.toFixed(1).replace('-', '\u2212');

function cbAxis(grid) {
  return tickedAxis(grid, massRange[0] - CB_EXT, massRange[1] + CB_EXT, massTicks, plainFmt, 22, 9, 5);
}

const frame = { show: true, borderColor: FRAME, borderWidth: 1, backgroundColor: 'transparent', outerBoundsMode: 'none' };
const bare = { show: false, outerBoundsMode: 'none' };

// ---- series renderers ----
function colorbarItem(params, api) {
  const lo = massRange[0] - CB_EXT, hi = massRange[1] + CB_EXT;
  const pts = [[lo, 0.5], [massRange[0], 1], [massRange[1], 1], [hi, 0.5], [massRange[1], 0], [massRange[0], 0]]
    .map(p => api.coord(p));
  const stops = [{ offset: 0, color: massColor(massRange[0], 0.6) }];
  for (let i = 0; i <= 48; i++) {
    const v = massRange[0] + (massRange[1] - massRange[0]) * i / 48;
    stops.push({ offset: (v - lo) / (hi - lo), color: massColor(v, 0.6) });
  }
  stops.push({ offset: 1, color: massColor(massRange[1], 0.6) });
  return { type: 'polygon', shape: { points: pts },
    style: { fill: new echarts.graphic.LinearGradient(0, 0, 1, 0, stops), stroke: '#1a1a1a', lineWidth: 1 } };
}
function topHistItem(params, api) {
  const a = api.coord([api.value(0), 0]);
  const b = api.coord([api.value(1), api.value(2)]);
  return { type: 'rect', shape: { x: a[0], y: b[1], width: b[0] - a[0], height: a[1] - b[1] },
    style: { fill: massColor(api.value(3), 0.85), stroke: '#ffffff', lineWidth: 1 } };
}
function sideHistItem(params, api) {
  const a = api.coord([0, api.value(0)]);
  const b = api.coord([api.value(2), api.value(1)]);
  return { type: 'rect', shape: { x: a[0], y: b[1], width: b[0] - a[0], height: a[1] - b[1] },
    style: { fill: '#ffffff', stroke: '#8c8c8c', lineWidth: 1.5 } };
}
function errorItem(params, api) {
  const x = api.value(0), y = api.value(1), ex = api.value(2), ey = api.value(3);
  const l = api.coord([x - ex, y]), r = api.coord([x + ex, y]);
  const t = api.coord([x, y + ey]), b = api.coord([x, y - ey]);
  const cap = 3;
  const st = { stroke: '#262626', lineWidth: 1.5 };
  const seg = (x1, y1, x2, y2) => ({ type: 'line', shape: { x1, y1, x2, y2 }, style: st });
  return { type: 'group', children: [
    seg(l[0], l[1], r[0], r[1]), seg(t[0], t[1], b[0], b[1]),
    seg(l[0], l[1] - cap, l[0], l[1] + cap), seg(r[0], r[1] - cap, r[0], r[1] + cap),
    seg(t[0] - cap, t[1], t[0] + cap, t[1]), seg(b[0] - cap, b[1], b[0] + cap, b[1])
  ] };
}

function scatterSeries(axis, data) {
  return { type: 'scatter', xAxisIndex: axis, yAxisIndex: axis, data, symbolSize: 6, silent: true,
    itemStyle: { color: p => massColor(p.value[2], 0.9), borderWidth: 0 } };
}
function diagonalSeries(axis, range) {
  return { type: 'line', xAxisIndex: axis, yAxisIndex: axis, data: [[range[0], range[0]], [range[1], range[1]]],
    symbol: 'none', silent: true, lineStyle: { color: '#000', width: 2 }, z: 5 };
}

// ---- titles (mathtext-like subscripts via rich text) ----
const axisRich = {
  m: { fontSize: 26, fontFamily: FONT, fill: INK, lineHeight: 33 },
  s: { fontSize: 18, fontFamily: FONT, fill: INK, verticalAlign: 'bottom' }
};
const cbRich = {
  m: { fontSize: 23, fontFamily: FONT, fill: INK, lineHeight: 28 },
  s: { fontSize: 16, fontFamily: FONT, fill: INK, verticalAlign: 'bottom' }
};
function title(x, y, text, rich, rotation) {
  return { type: 'text', x, y, rotation: rotation || 0, silent: true,
    style: { text, rich, align: 'center', verticalAlign: 'middle', fontFamily: FONT, fill: INK } };
}
function plainTitle(x, y, text, size, rotation) {
  return { type: 'text', x, y, rotation: rotation || 0, silent: true,
    style: { text, fontSize: size, fontFamily: FONT, fill: INK, align: 'center', verticalAlign: 'middle' } };
}
const massTitle = '{m|log(M}{s|disc}{m|/M}{s|\u2299}{m|)}';
const UP = Math.PI / 2;

const option = {
  backgroundColor: '#ffffff',
  animation: false,
  grid: [
    Object.assign({ left: 117, top: 35, width: 380, height: 34 }, bare),     // 0 colourbar (metallicity)
    Object.assign({ left: 117, top: 155, width: 384, height: 110 }, frame),  // 1 top histogram
    Object.assign({ left: 117, top: 265, width: 384, height: 384 }, frame),  // 2 [M/H] scatter
    Object.assign({ left: 501, top: 265, width: 110, height: 384 }, frame),  // 3 side histogram
    Object.assign({ left: 114, top: 743, width: 383, height: 34 }, bare),    // 4 colourbar (age)
    Object.assign({ left: 115, top: 863, width: 386, height: 111 }, frame),  // 5 top histogram
    Object.assign({ left: 115, top: 974, width: 386, height: 387 }, frame),  // 6 age scatter
    Object.assign({ left: 501, top: 974, width: 110, height: 387 }, frame)   // 7 side histogram
  ],
  xAxis: [
    cbAxis(0),
    hiddenAxis(1, metalRange[0], metalRange[1]),
    tickedAxis(2, metalRange[0], metalRange[1], metalTicks, plainFmt, 22, 10, 5),
    tickedAxis(3, 0, 350, [200, 350], plainFmt, 18, 5, 5),
    cbAxis(4),
    hiddenAxis(5, ageRange[0], ageRange[1]),
    tickedAxis(6, ageRange[0], ageRange[1], ageTicks, plainFmt, 22, 7, 5),
    tickedAxis(7, 0, 300, [100, 300], plainFmt, 18, 5, 5)
  ],
  yAxis: [
    hiddenAxis(0, 0, 1),
    tickedAxis(1, 0, 200, [100, 200], plainFmt, 17, 9, 5),
    tickedAxis(2, metalRange[0], metalRange[1], metalTicks, minusFmt, 22, 9, 5),
    hiddenAxis(3, metalRange[0], metalRange[1]),
    hiddenAxis(4, 0, 1),
    tickedAxis(5, 0, 200, [100, 200], plainFmt, 17, 9, 5),
    tickedAxis(6, ageRange[0], ageRange[1], ageTicks, v => v.toFixed(1), 22, 8, 5),
    hiddenAxis(7, ageRange[0], ageRange[1])
  ],
  series: [
    { type: 'custom', xAxisIndex: 0, yAxisIndex: 0, data: [[massRange[0], massRange[1]]], renderItem: colorbarItem, silent: true, clip: false },
    { type: 'custom', xAxisIndex: 1, yAxisIndex: 1, data: bins(metalTopStart, metalTopWidth, metalTopCounts, metalTopMass),
      encode: { x: [0, 1], y: 2 }, renderItem: topHistItem, silent: true },
    scatterSeries(2, metalPoints),
    diagonalSeries(2, metalRange),
    { type: 'custom', xAxisIndex: 2, yAxisIndex: 2, data: metalError, renderItem: errorItem, silent: true, z: 6 },
    { type: 'custom', xAxisIndex: 3, yAxisIndex: 3, data: bins(metalSideStart, metalSideWidth, metalSideCounts),
      encode: { x: 2, y: [0, 1] }, renderItem: sideHistItem, silent: true },

    { type: 'custom', xAxisIndex: 4, yAxisIndex: 4, data: [[massRange[0], massRange[1]]], renderItem: colorbarItem, silent: true, clip: false },
    { type: 'custom', xAxisIndex: 5, yAxisIndex: 5, data: bins(ageTopStart, ageTopWidth, ageTopCounts, ageTopMass),
      encode: { x: [0, 1], y: 2 }, renderItem: topHistItem, silent: true },
    scatterSeries(6, agePoints),
    diagonalSeries(6, ageRange),
    { type: 'custom', xAxisIndex: 6, yAxisIndex: 6, data: ageError, renderItem: errorItem, silent: true, z: 6 },
    { type: 'custom', xAxisIndex: 7, yAxisIndex: 7, data: bins(ageSideStart, ageSideWidth, ageSideCounts),
      encode: { x: 2, y: [0, 1] }, renderItem: sideHistItem, silent: true }
  ],
  graphic: [
    title(303, 21, massTitle, cbRich),
    title(300, 729, massTitle, cbRich),
    title(309, 699, '{m|[M/H]}{s|disc}', axisRich),
    title(33, 457, '{m|[M/H]}{s|bulge}', axisRich, UP),
    title(308, 1409, '{m|log(Age}{s|disc}{m|) [yr]}', axisRich),
    title(27, 1167, '{m|log(Age}{s|bulge}{m|) [yr]}', axisRich, UP),
    plainTitle(60, 210, 'No.of galaxies', 16, UP),
    plainTitle(45, 915, 'No.of galaxies', 16, UP),
    plainTitle(562, 689, 'No.of galaxies', 17),
    plainTitle(562, 1399, 'No.of galaxies', 17)
  ]
};

const chart = echarts.init(document.getElementById('chart'), null, { renderer: 'canvas', width: 647, height: 1427 });
chart.setOption(option);
</script>
</body>
</html>
